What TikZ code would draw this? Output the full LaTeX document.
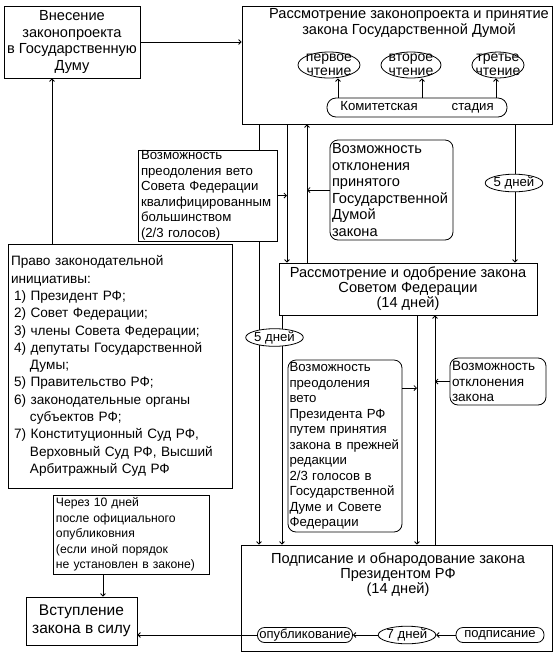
\documentclass[tikz,border=0pt]{standalone}
\usepackage{fontspec}
\setmainfont{Liberation Sans}
\usetikzlibrary{arrows.meta,shapes.geometric}

\newcommand{\bigfont}{\fontsize{14.6}{16.5}\selectfont}
\newcommand{\smallfont}{\fontsize{13.2}{15.5}\selectfont}

\begin{document}
\begin{tikzpicture}[
  x=1pt, y=-1pt, line width=0.8pt,
  >={Straight Barb[length=2.5pt,width=5pt]},
  plainbox/.style={draw, fill=white, inner xsep=3pt, inner ysep=0pt},
  softbox/.style={plainbox, rounded corners=8pt, inner xsep=2pt},
  pill/.style={draw, fill=white, rounded corners=7pt, inner sep=0pt, minimum height=15pt,
               font=\fontsize{13}{14}\selectfont},
  oval/.style={draw, fill=white, ellipse, inner sep=0pt, font=\smallfont},
  bigtxt/.style={font=\bigfont},
  smalltxt/.style={font=\smallfont},
  titletxt/.style={font=\fontsize{14.6}{15}\selectfont, align=center},
  readtxt/.style={font=\fontsize{14}{13.5}\selectfont, align=center},
]
\useasboundingbox (0,0) rectangle (554,657);

% x positions of the long vertical connectors
\coordinate (xL) at (52,0);
\coordinate (xA) at (259,0);
\coordinate (xE) at (282,0);
\coordinate (xB) at (287,0);
\coordinate (xC) at (307,0);
\coordinate (xF) at (417,0);
\coordinate (xG) at (435,0);
\coordinate (xD) at (515,0);
\coordinate (xH) at (103,0);

% =====================================================================
% STATE DUMA
% =====================================================================
\node[plainbox, bigtxt, align=center, minimum width=132pt, minimum height=72pt] (vnes) at (72,42)
  {Внесение\\законопроекта\\в Государственную\\Думу};
\node[plainbox, minimum width=310pt, minimum height=118pt] (duma) at (397,65) {};
\node[bigtxt, align=center] (dumaT) at (409,23)
  {Рассмотрение законопроекта и принятие\\закона Государственной Думой};
\node[oval, minimum width=62pt, minimum height=26pt, label={[readtxt]center:первое\\чтение}] (read1) at (329,65) {};
\node[oval, minimum width=60pt, minimum height=26pt, label={[readtxt]center:второе\\чтение}] (read2) at (411,65) {};
\node[oval, minimum width=52pt, minimum height=26pt, label={[readtxt]center:третье\\чтение}] (read3) at (498,65) {};
\node[pill, minimum width=180pt, minimum height=19pt, rounded corners=9pt, font=\smallfont] (comm) at (417,107.5)
  {Комитетская\hspace{34pt}стадия};

% =====================================================================
% LEFT : initiative, SF veto
% =====================================================================
\node[plainbox, smalltxt, align=left, text width=133pt, minimum height=91pt] (vetoSF) at (207.5,195.5)
  {Возможность\\преодоления вето\\Совета Федерации\\квалифицированным\\большинством\\(2/3 голосов)};
\node[softbox, bigtxt, align=left, text width=119pt, minimum height=100pt] (rejDuma) at (391.5,190)
  {Возможность\\отклонения\\принятого\\Государственной\\Думой\\закона};
\node[plainbox, font=\fontsize{13.6}{17.3}\selectfont, align=left, text width=218pt, minimum height=244pt] (rights) at (120,366)
  {Право законодательной\\инициативы:\\
   \hspace*{3pt}1) Президент РФ;\\
   \hspace*{3pt}2) Совет Федерации;\\
   \hspace*{3pt}3) члены Совета Федерации;\\
   \hspace*{3pt}4) депутаты Государственной\\
   \hspace*{19pt}Думы;\\
   \hspace*{3pt}5) Правительство РФ;\\
   \hspace*{3pt}6) законодательные органы\\
   \hspace*{19pt}субъектов РФ;\\
   \hspace*{3pt}7) Конституционный Суд РФ,\\
   \hspace*{19pt}Верховный Суд РФ, Высший\\
   \hspace*{19pt}Арбитражный Суд РФ};

% =====================================================================
% FEDERATION COUNCIL
% =====================================================================
\node[plainbox, titletxt, minimum width=258pt, minimum height=52pt] (fedC) at (408,289)
  {Рассмотрение и одобрение закона\\Советом Федерации\\(14 дней)};
\node[softbox, smalltxt, align=left, text width=111pt, inner xsep=1.5pt, minimum height=172pt] (vetoPres) at (345,446)
  {Возможность\\преодоления\\вето\\Президента РФ\\путем принятия\\закона в прежней\\редакции\\2/3 голосов в\\Государственной\\Думе и Совете\\Федерации};
\node[softbox, font=\fontsize{13.5}{15.5}\selectfont, align=left, text width=92pt, minimum height=47pt] (rejFC) at (498,381.5)
  {Возможность\\отклонения\\закона};

% =====================================================================
% PRESIDENT, ENTRY INTO FORCE
% =====================================================================
\node[plainbox, minimum width=311pt, minimum height=106pt] (sign) at (396.5,598) {};
\node[titletxt] (signT) at (398,575) {Подписание и обнародование закона\\Президентом РФ\\(14 дней)};
\node[pill, minimum width=95pt] (pub) at (305,635) {опубликование};
\node[oval, minimum width=56pt, minimum height=15pt] (seven) at (407,635) {7 дней};
\node[pill, minimum width=88pt] (podp) at (500,635) {подписание};
\node[plainbox, font=\fontsize{12.2}{15.5}\selectfont, align=left, text width=150pt, minimum height=79pt] (cherez) at (131,534.5)
  {Через 10 дней\\после официального\\опубликовния\\(если иной порядок\\не установлен в законе)};
\node[plainbox, font=\fontsize{15.5}{18}\selectfont, align=center, minimum width=111pt, minimum height=48pt] (vstup) at (81.5,621)
  {Вступление\\закона в силу};

% =====================================================================
% CONNECTORS
% =====================================================================
\draw[->] (vnes.east) -- (vnes.east -| duma.west);
\draw[->] (rights.north -| xL) -- (vnes.south -| xL);
\draw[->] ([xshift=9pt]comm.north -| read1.south) -- ([xshift=9pt]read1.south);
\draw[->] ([xshift=11pt]comm.north -| read2.south) -- ([xshift=11pt]read2.south);
\draw[->] ([xshift=-2pt]comm.north -| read3.south) -- ([xshift=-2pt]read3.south);

\draw (duma.south -| xA) -- (vetoSF.north -| xA);
\draw[->] (vetoSF.south -| xA) -- (sign.north -| xA);
\draw[->] (duma.south -| xB) -- (fedC.north -| xB);
\draw[->] (vetoSF.east) -- (vetoSF.east -| xB);
\draw[->] (fedC.north -| xC) -- (duma.south -| xC);
\draw[->] (rejDuma.west) -- (rejDuma.west -| xC);
\draw[->] (duma.south -| xD) -- (fedC.north -| xD);

\draw[->] (fedC.south -| xE) -- (sign.north -| xE);
\draw[->] (fedC.south -| xF) -- (sign.north -| xF);
\draw[->] ([yshift=58pt]vetoPres.east) -- ([yshift=58pt]vetoPres.east -| xF);
\draw[->] (sign.north -| xG) -- (fedC.south -| xG);
\draw[->] (rejFC.west) -- (rejFC.west -| xG);

\draw[->] (cherez.south -| xH) -- (vstup.north -| xH);
\draw[->] (podp.west) -- (seven.east);
\draw[->] (seven.west) -- (pub.east);
\draw[->] (pub.west) -- (pub.west -| vstup.east);

% day marks on the lines
\node[oval, minimum width=55pt, minimum height=16pt] (fiveA) at (514,183) {5 дней};
\node[oval, minimum width=55pt, minimum height=15pt] (fiveB) at (274.5,337.5) {5 дней};

\end{tikzpicture}
\end{document}
